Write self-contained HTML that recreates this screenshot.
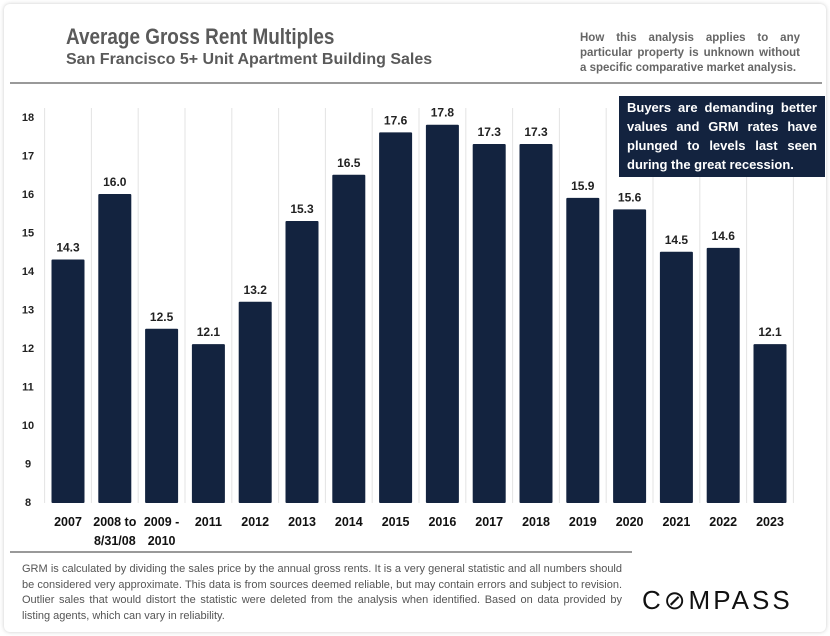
<!DOCTYPE html>
<html><head><meta charset="utf-8"><style>
body{margin:0;width:830px;height:636px;background:#fff;font-family:"Liberation Sans",sans-serif;overflow:hidden;position:relative}
.card{position:absolute;left:4px;top:4px;width:822px;height:628px;border-radius:6px;background:#fff;box-shadow:0 0 4px #ccc}
.t{position:absolute;color:#555}
</style></head><body>
<div class="card"></div>
<div class="t" style="left:66px;top:24px;font-size:22px;font-weight:bold;color:#5a5a5a;transform:scaleX(0.86);transform-origin:0 0">Average Gross Rent Multiples</div>
<div class="t" style="left:66px;top:51px;font-size:16px;font-weight:bold;color:#5a5a5a">San Francisco 5+ Unit Apartment Building Sales</div>
<div class="t" style="left:580px;top:31px;width:220px;font-size:11.5px;line-height:15px;text-align:justify;font-weight:bold;color:#666">How this analysis applies to any particular property is unknown without a specific comparative market analysis.</div>
<div style="position:absolute;left:10px;top:82px;width:812px;height:2px;background:#999"></div>
<svg id="c" width="830" height="636" style="position:absolute;left:0;top:0"></svg>
<div style="position:absolute;z-index:2;left:619px;top:96px;width:206px;height:81px;background:#13233f;color:#fff;font-size:13px;font-weight:bold;line-height:19px;padding:2px 8px;box-sizing:border-box;text-align:justify">Buyers are demanding better values and GRM rates have plunged to levels last seen during the great recession.</div>
<div style="position:absolute;left:10px;top:551px;width:622px;height:2px;background:#999"></div>
<div class="t" style="left:22px;top:562px;width:600px;font-size:11px;line-height:15.5px;text-align:justify;color:#555">GRM is calculated by dividing the sales price by the annual gross rents. It is a very general statistic and all numbers should be considered very approximate. This data is from sources deemed reliable, but may contain errors and subject to revision. Outlier sales that would distort the statistic were deleted from the analysis when identified. Based on data provided by listing agents, which can vary in reliability.</div>
<div class="t" style="left:642px;top:585px;font-size:26px;letter-spacing:3px;color:#111">C⊘MPASS</div>
<script>
const categories=["2007","2008 to|8/31/08","2009 -|2010","2011","2012","2013","2014","2015","2016","2017","2018","2019","2020","2021","2022","2023"];
const values=[14.3,16.0,12.5,12.1,13.2,15.3,16.5,17.6,17.8,17.3,17.3,15.9,15.6,14.5,14.6,12.1];
const yTicks=[8,9,10,11,12,13,14,15,16,17,18];
const svg=document.getElementById('c'),NS="http://www.w3.org/2000/svg";
const y=v=>502-(v-8)*38.5, x=i=>68+i*46.8;
function mk(t,a){const e=document.createElementNS(NS,t);for(const k in a)e.setAttribute(k,a[k]);svg.appendChild(e);return e;}
for(let i=0;i<=categories.length;i++){const g=mk('line',{x1:x(i)-23.4,x2:x(i)-23.4,y1:108,y2:503,stroke:'#e3e3e3'});

}
yTicks.forEach(v=>{const t=mk('text',{x:28,y:y(v)+4,'font-size':11,'font-weight':'bold','text-anchor':'middle',fill:'#222'});t.textContent=v;

});
values.forEach((v,i)=>{
const b=mk('rect',{x:x(i)-16.5,y:y(v),width:33,height:503-y(v),fill:'#13233f',rx:1});


const l=mk('text',{x:x(i),y:y(v)-8,'font-size':12,'font-weight':'bold','text-anchor':'middle',fill:'#222'});l.textContent=v.toFixed(1);


categories[i].split('|').forEach((s,j)=>{const c=mk('text',{x:x(i),y:526+j*19,'font-size':12.5,'font-weight':'bold','text-anchor':'middle',fill:'#111'});c.textContent=s;

});
});
</script>
</body></html>
